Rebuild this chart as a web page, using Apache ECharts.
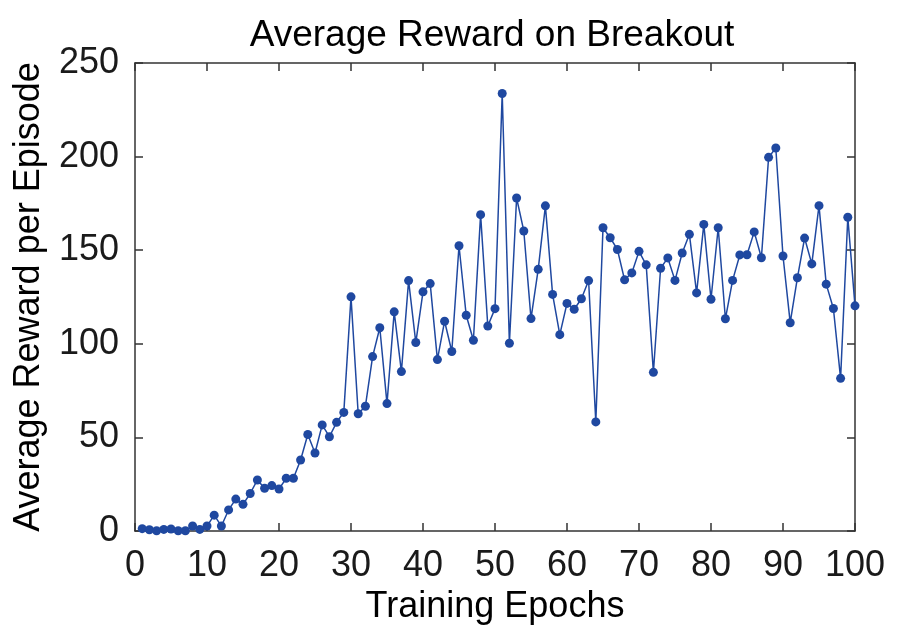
<!DOCTYPE html>
<html>
<head>
<meta charset="utf-8">
<script src="https://cdn.jsdelivr.net/npm/echarts@6/dist/echarts.min.js"></script>
<style>
  html, body { margin: 0; padding: 0; background: #fff; }
  #chart { width: 900px; height: 630px; }
</style>
</head>
<body>
<div id="chart"></div>
<script>
// epochs 1..100
const epochs = [];
for (let e = 1; e <= 100; e++) epochs.push(e);

const rewards = [
  1.3, 0.7, 0.2, 0.9, 1.1, 0.2, 0.2, 2.7, 0.9, 2.7,
  8.5, 2.7, 11.3, 17.1, 14.3, 20.1, 27.3, 22.9, 24.3, 22.5,
  28.2, 28.2, 38.0, 51.6, 41.7, 56.7, 50.4, 58.1, 63.4, 125.1,
  62.7, 66.7, 93.2, 108.6, 68.1, 117.1, 85.2, 133.8, 100.7, 127.8,
  132.2, 91.6, 112.1, 95.9, 152.4, 115.3, 101.9, 169.0, 109.5, 118.8,
  233.7, 100.3, 177.9, 160.3, 113.5, 139.8, 173.7, 126.4, 104.9, 121.6,
  118.5, 124.1, 133.8, 58.3, 162.0, 156.7, 150.4, 134.2, 137.9, 149.4,
  142.2, 84.8, 140.4, 145.9, 133.9, 148.5, 158.5, 127.2, 163.8, 123.8,
  162.0, 113.4, 133.9, 147.5, 147.6, 159.8, 146.0, 199.6, 204.6, 146.9,
  111.3, 135.3, 156.5, 142.7, 173.8, 131.9, 118.9, 81.6, 167.6, 120.3
];

const FONT = "Liberation Sans, Arial, Helvetica, sans-serif";
const AXIS_COLOR = "#333";

const chart = echarts.init(document.getElementById("chart"));

function frameLine() {
  return { show: true, onZero: false, lineStyle: { color: AXIS_COLOR, width: 1.5 } };
}
function innerTick() {
  return { show: true, inside: true, length: 8, lineStyle: { color: AXIS_COLOR, width: 1.5 } };
}

const option = {
  animation: false,
  backgroundColor: "#fff",
  title: {
    text: "Average Reward on Breakout",
    left: 487,
    textAlign: "center",
    top: 12,
    textStyle: { fontFamily: FONT, fontSize: 37, fontWeight: "normal", color: "#000" }
  },
  grid: { left: 135, right: 45, top: 63, bottom: 95 },
  xAxis: [
    {
      type: "value",
      min: 0,
      max: 100,
      interval: 10,
      name: "Training Epochs",
      nameLocation: "middle",
      nameGap: 48,
      nameTextStyle: { fontFamily: FONT, fontSize: 36, color: "#000" },
      axisLine: frameLine(),
      axisTick: innerTick(),
      axisLabel: { fontFamily: FONT, fontSize: 36, color: "#1a1a1a", margin: 17 },
      splitLine: { show: false }
    },
    {
      type: "value",
      position: "top",
      min: 0,
      max: 100,
      interval: 10,
      axisLine: frameLine(),
      axisTick: innerTick(),
      axisLabel: { show: false },
      splitLine: { show: false }
    }
  ],
  yAxis: [
    {
      type: "value",
      min: 0,
      max: 250,
      interval: 50,
      name: "Average Reward per Episode",
      nameLocation: "middle",
      nameGap: 88,
      nameTextStyle: { fontFamily: FONT, fontSize: 36, color: "#000" },
      axisLine: frameLine(),
      axisTick: innerTick(),
      axisLabel: { fontFamily: FONT, fontSize: 36, color: "#1a1a1a", margin: 16 },
      splitLine: { show: false }
    },
    {
      type: "value",
      position: "right",
      min: 0,
      max: 250,
      interval: 50,
      axisLine: frameLine(),
      axisTick: innerTick(),
      axisLabel: { show: false },
      splitLine: { show: false }
    }
  ],
  series: [
    {
      type: "line",
      data: epochs.map((e, i) => [e, rewards[i]]),
      symbol: "circle",
      symbolSize: 9,
      showSymbol: true,
      lineStyle: { color: "#1f48a0", width: 1.5 },
      itemStyle: { color: "#1f48a0" }
    }
  ]
};

chart.setOption(option);
</script>
</body>
</html>
